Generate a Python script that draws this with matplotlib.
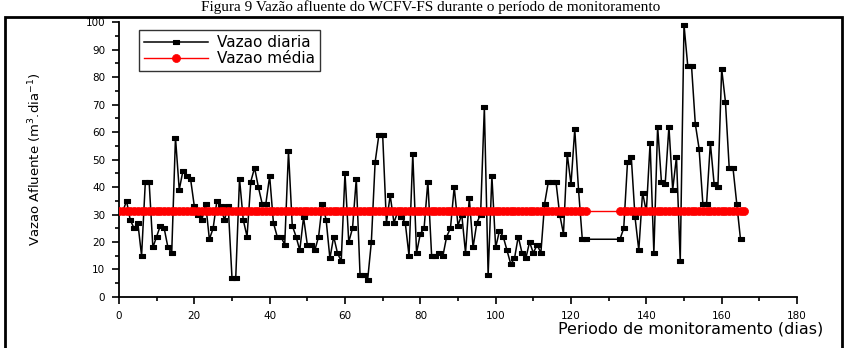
import numpy as np
import matplotlib.pyplot as plt
from matplotlib.patches import Rectangle
from matplotlib.ticker import MultipleLocator

# vazao diaria (m3/dia), dias 1-124 e 133-165
vazao_a = [31, 35, 28, 25, 27, 15, 42, 42, 18, 22, 26, 25, 18, 16, 58, 39, 46, 44, 43, 33,
           30, 28, 34, 21, 25, 35, 33, 28, 33, 7, 7,
           43, 28, 22, 42, 47, 40, 34, 34, 44, 27, 22, 22, 19, 53, 26, 22, 17, 29, 19, 19,
           17, 22, 34, 28, 14, 22, 16, 13, 45, 20,
           25, 43, 8, 8, 6, 20, 49, 59, 59, 27, 37, 27, 31, 29, 27, 15, 52, 16, 23, 25,
           42, 15, 15, 16, 15, 22, 25, 40, 26, 30,
           16, 36, 18, 27, 30, 69, 8, 44, 18, 24, 22, 17, 12, 14, 22, 16, 14, 20, 16, 19,
           16, 34, 42, 42, 42, 30, 23, 52, 41, 61, 39, 21, 21]
vazao_b = [21, 25, 49, 51, 29, 17, 38, 31, 56, 16, 62, 42, 41, 62, 39, 51, 13, 99, 84, 84,
           63, 54, 34, 34, 56, 41, 40, 83, 71, 47, 47, 34, 21]
dias = np.concatenate([np.arange(1, 1 + len(vazao_a)), np.arange(133, 133 + len(vazao_b))])
vazao = np.array(vazao_a + vazao_b)

vazao_media = 31.3
dias_media = np.concatenate([np.arange(0, 125), np.arange(133, 167)])

fig = plt.figure(figsize=(8.45, 3.48), dpi=100)
ax = fig.add_axes([0.1408, 0.1466, 0.8024, 0.790])

# marcador retangular achatado
ret = [(-1.6, -1), (1.6, -1), (1.6, 1), (-1.6, 1), (-1.6, -1)]
ax.plot(dias, vazao, color='black', lw=1.1, marker=ret, ms=5, mfc='black', mec='black',
        mew=0.8, label='Vazao diaria', zorder=2)
ax.plot(dias_media, np.full(len(dias_media), vazao_media), color='red', lw=1,
        marker='o', ms=5.8, mec='red', mfc='red', mew=0.5, label='Vazao média', zorder=3)

ax.set_xlim(0, 180)
ax.set_ylim(0, 100)
ax.xaxis.set_major_locator(MultipleLocator(20))
ax.xaxis.set_minor_locator(MultipleLocator(10))
ax.yaxis.set_major_locator(MultipleLocator(10))
ax.yaxis.set_minor_locator(MultipleLocator(5))
ax.tick_params(which='major', direction='out', length=5, width=1.2, labelsize=7.5, pad=5)
ax.tick_params(which='minor', direction='out', length=3, width=1.2)
for s in ['top', 'right']:
    ax.spines[s].set_visible(False)
for s in ['left', 'bottom']:
    ax.spines[s].set_linewidth(1.3)

ax.set_xlabel('Periodo de monitoramento (dias)', fontsize=11.5, ha='right')
ax.xaxis.set_label_coords(1.038, -0.09)
ax.set_ylabel('Vazao Afluente (m$^3$.dia$^{-1}$)', fontsize=9.5)
ax.yaxis.set_label_coords(-0.11, 0.5)

leg = ax.legend(loc='upper left', bbox_to_anchor=(0.03, 0.97), numpoints=1, fontsize=11,
                frameon=True, fancybox=False, borderpad=0.3, handlelength=4.2,
                labelspacing=0.1, handletextpad=0.6, borderaxespad=0)
leg.get_frame().set_edgecolor('black')
leg.get_frame().set_linewidth(1)

fig.text(0.51, 0.999, 'Figura 9 Vazão afluente do WCFV-FS durante o período de monitoramento',
         ha='center', va='top', fontsize=11, family='Liberation Serif')
fig.patches.append(Rectangle((0.006, -0.05), 0.991, 1.001, transform=fig.transFigure,
                             fill=False, edgecolor='black', lw=2))

fig.savefig('out.png', dpi=100)
